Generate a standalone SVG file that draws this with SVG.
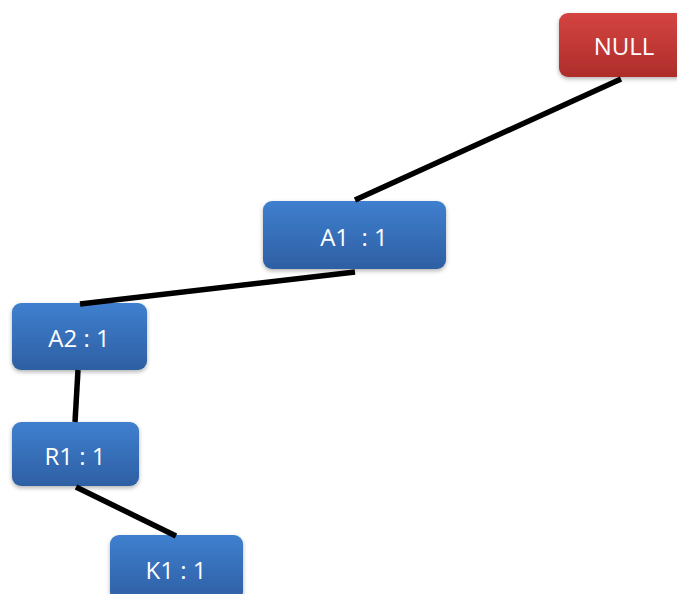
<svg xmlns="http://www.w3.org/2000/svg" width="677" height="594" viewBox="0 0 677 594">
<defs>
<linearGradient id="gb" x1="0" y1="0" x2="0" y2="1"><stop offset="0" stop-color="#3f7fcf"/><stop offset="1" stop-color="#2e5fa3"/></linearGradient>
<linearGradient id="gr" x1="0" y1="0" x2="0" y2="1"><stop offset="0" stop-color="#d44441"/><stop offset="1" stop-color="#ae2d2b"/></linearGradient>
<filter id="sh" x="-10%" y="-10%" width="120%" height="130%"><feDropShadow dx="0" dy="2" stdDeviation="2" flood-color="#000" flood-opacity="0.3"/></filter>
</defs>
<style>
.b{fill:url(#gb);filter:url(#sh)}
.r{fill:url(#gr);filter:url(#sh)}
.t{fill:#fff;font-family:"Open Sans","Liberation Sans",sans-serif;font-size:24px;text-anchor:middle;dominant-baseline:central}
.c{stroke:#000;stroke-width:5.5;fill:none}
</style>
<rect width="677" height="594" fill="#fff"/>
<g id="NULL"><rect class="r" x="559" y="13" width="126" height="64" rx="9"/><text class="t" x="624" y="45">NULL</text></g>
<g id="A1"><rect class="b" x="263" y="201" width="183" height="68" rx="9"/><text class="t" x="354" y="236" xml:space="preserve">A1  : 1</text></g>
<g id="A2"><rect class="b" x="12" y="303" width="135" height="67" rx="9"/><text class="t" x="79" y="337">A2 : 1</text></g>
<g id="R1"><rect class="b" x="12" y="422" width="127" height="64" rx="9"/><text class="t" x="75" y="455">R1 : 1</text></g>
<g id="K1"><rect class="b" x="110" y="535" width="133" height="66" rx="9"/><text class="t" x="176" y="569">K1 : 1</text></g>
<g id="connectors">
<line class="c" x1="621" y1="79" x2="355" y2="200"/>
<line class="c" x1="355" y1="272" x2="80" y2="304"/>
<line class="c" x1="78" y1="370" x2="75" y2="422"/>
<line class="c" x1="76" y1="487" x2="176" y2="536"/>
</g>
</svg>
